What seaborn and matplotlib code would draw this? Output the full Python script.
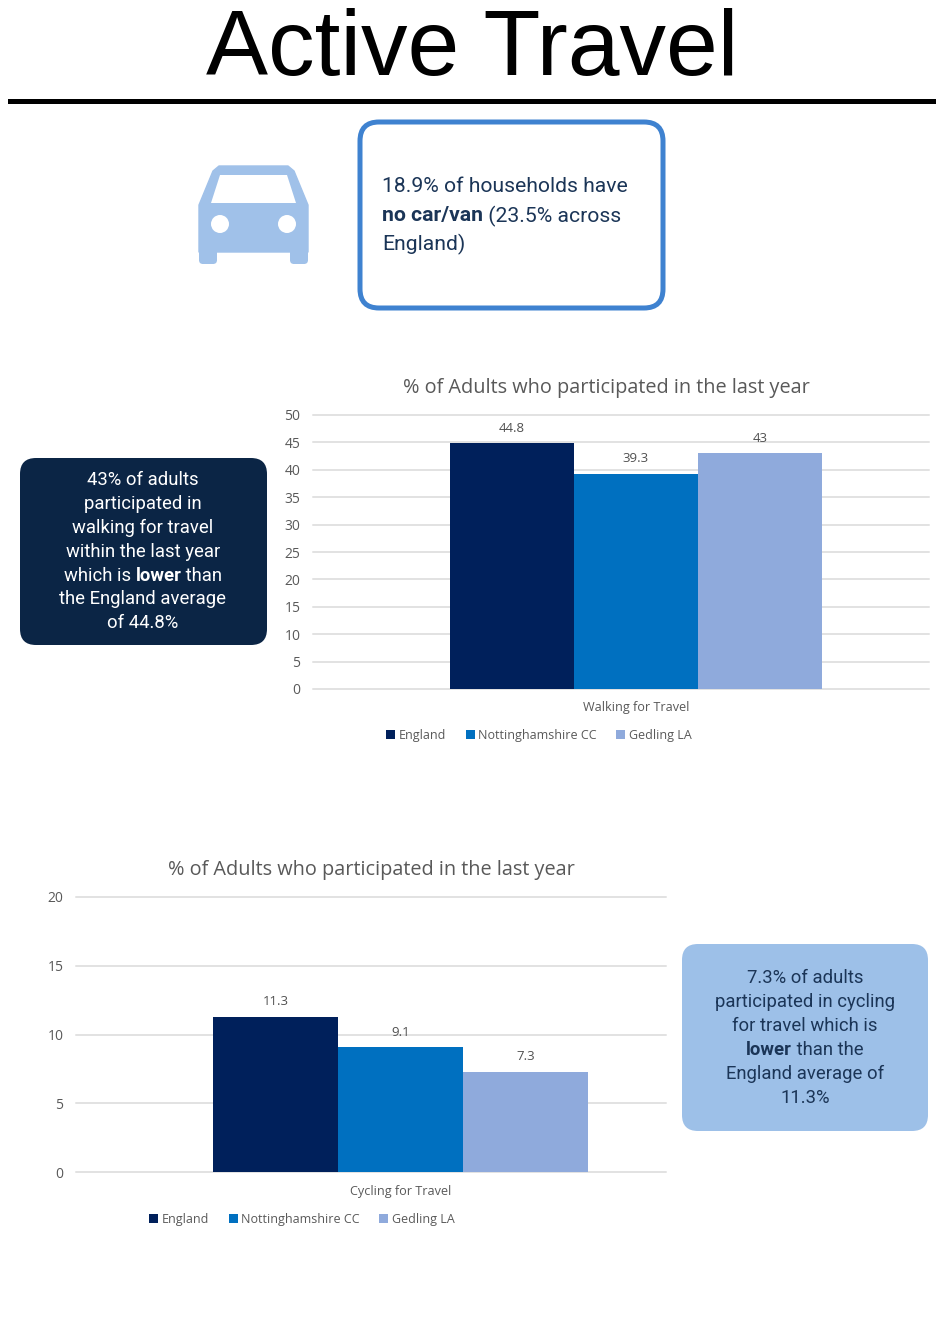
import matplotlib
matplotlib.use("Agg")
import matplotlib.pyplot as plt
from matplotlib.patches import FancyBboxPatch, Circle, Polygon, Rectangle
import pandas as pd
import seaborn as sns

WIDTH, HEIGHT = 937, 1339

areas = ["England", "Nottinghamshire CC", "Gedling LA"]
walking_values = [44.8, 39.3, 43]
cycling_values = [11.3, 9.1, 7.3]
walking_label = "Walking for Travel"
cycling_label = "Cycling for Travel"
chart_title = "% of Adults who participated in the last year"
walking_ticks = [0, 5, 10, 15, 20, 25, 30, 35, 40, 45, 50]
cycling_ticks = [0, 5, 10, 15, 20]
area_colors = ["#00205B", "#0070C0", "#8FAADC"]

sns.set_theme(style="white")
plt.rcParams["font.family"] = ["Open Sans", "DejaVu Sans"]

fig = plt.figure(figsize=(WIDTH / 100, HEIGHT / 100), dpi=100, facecolor="white")

# Overlay in pixel units for the heading, icon and callout boxes
canvas = fig.add_axes([0, 0, 1, 1], zorder=5)
canvas.set_xlim(0, WIDTH)
canvas.set_ylim(HEIGHT, 0)
canvas.axis("off")
canvas.patch.set_alpha(0)


def axes_from_pixels(left, top, right, bottom):
    return fig.add_axes([left / WIDTH, 1 - bottom / HEIGHT,
                         (right - left) / WIDTH, (bottom - top) / HEIGHT])


def draw_chart(rect, values, category, ticks, group_width, xlim, legend_center,
               title_center, label_pad, category_y):
    ax = axes_from_pixels(*rect)
    frame = pd.DataFrame({"category": [category] * len(areas),
                          "area": areas, "value": values})
    sns.barplot(data=frame, x="category", y="value", hue="area", hue_order=areas,
                palette=area_colors, width=group_width, gap=0, saturation=1,
                legend=True, linewidth=0, ax=ax, zorder=3)
    ax.set_xlim(*xlim)
    ax.set_ylim(ticks[0], ticks[-1])
    ax.set_yticks(ticks)
    ax.yaxis.grid(True, color="#E2E2E2", linewidth=1.44, zorder=0, clip_on=False)
    ax.xaxis.grid(False)
    ax.set_axisbelow(True)
    sns.despine(ax=ax, left=True, bottom=True, top=True, right=True)
    ax.set_xlabel("")
    ax.set_ylabel("")
    ax.set_xticks([])
    ax.tick_params(axis="y", length=0, pad=9, labelsize=10, labelcolor="#595959")
    for container, value in zip(ax.containers, values):
        ax.bar_label(container, labels=[f"{value:g}"], padding=label_pad,
                     fontsize=9.5, color="#505050")

    legend = ax.legend(loc="center", bbox_to_anchor=(legend_center[0] / WIDTH,
                                                     1 - legend_center[1] / HEIGHT),
                       bbox_transform=fig.transFigure, ncol=3, frameon=False,
                       handlelength=0.72, handleheight=0.72, handletextpad=0.3,
                       columnspacing=1.55, fontsize=9, labelcolor="#595959")
    legend.set_zorder(4)
    canvas.text(title_center[0], title_center[1], chart_title, ha="center", va="center",
                fontsize=14.35, color="#595959")
    bar_center = rect[0] + (0 - xlim[0]) / (xlim[1] - xlim[0]) * (rect[2] - rect[0])
    canvas.text(bar_center, category_y, category, ha="center", va="center",
                fontsize=9.05, color="#595959")
    return ax


def text_run_line(x, y, runs, size, color, align="left"):
    """Draw one line of mixed regular and bold runs, starting or centred at x."""
    renderer = fig.canvas.get_renderer()
    pieces = []
    total = 0
    for run, bold in runs:
        piece = canvas.text(0, y, run.replace(" ", "\u00a0"), fontsize=size, color=color,
                            va="center", ha="left", family=["Roboto", "DejaVu Sans"],
                            fontweight="bold" if bold else "normal")
        extent = piece.get_window_extent(renderer).width
        pieces.append((piece, extent))
        total += extent
    cursor = x - total / 2 if align == "center" else x
    for piece, extent in pieces:
        piece.set_x(cursor)
        cursor += extent


def rounded_box(left, top, right, bottom, radius, face, edge="none", line=0):
    canvas.add_patch(FancyBboxPatch((left + radius, top + radius),
                                    right - left - 2 * radius, bottom - top - 2 * radius,
                                    boxstyle=f"round,pad={radius},rounding_size={radius}",
                                    facecolor=face, edgecolor=edge, linewidth=line))


# Page heading and rule
canvas.text(472, 51, "Active Travel", ha="center", va="center", fontsize=67,
            color="black", family=["Liberation Sans", "DejaVu Sans"])
canvas.add_patch(Rectangle((8, 99), WIDTH - 8, 4.5, facecolor="black", edgecolor="none"))

# Car icon
icon_blue = "#A0C1E9"
canvas.add_patch(Polygon([(199, 205), (199, 252), (308, 252), (308, 205), (294, 171),
                          (288, 166), (219, 166), (213, 171)],
                         closed=True, facecolor=icon_blue, edgecolor=icon_blue,
                         linewidth=1, joinstyle="round"))
rounded_box(199, 240, 217, 264, 4, icon_blue)
rounded_box(290, 240, 308, 264, 4, icon_blue)
canvas.add_patch(Polygon([(220, 175), (287, 175), (296, 203), (211, 203)], closed=True,
                         facecolor="white", edgecolor="none"))
canvas.add_patch(Circle((220, 224), 9, facecolor="white", edgecolor="none"))
canvas.add_patch(Circle((287, 224), 9, facecolor="white", edgecolor="none"))

# Household car ownership callout
dark_text = "#1B3557"
rounded_box(360, 122, 663, 308, 19, "white", "#3F82D0", 3.6)
text_run_line(382, 187, [("18.9% of households have", False)], 15.2, dark_text)
text_run_line(382, 216, [("no car/van", True), (" (23.5% across", False)], 15.2, dark_text)
text_run_line(382, 244, [("England)", False)], 15.2, dark_text)

# Walking callout
rounded_box(20, 458, 267, 645, 16, "#0B2545")
walking_lines = [
    [("43% of adults", False)],
    [("participated in", False)],
    [("walking for travel", False)],
    [("within the last year", False)],
    [("which is ", False), ("lower", True), (" than", False)],
    [("the England average", False)],
    [("of 44.8%", False)],
]
for row, line_runs in enumerate(walking_lines):
    text_run_line(143, 480 + row * 23.9, line_runs, 13.3, "white", align="center")

# Cycling callout
rounded_box(682, 944, 928, 1131, 16, "#9DC0E8")
cycling_lines = [
    [("7.3% of adults", False)],
    [("participated in cycling", False)],
    [("for travel which is", False)],
    [("lower", True), (" than the", False)],
    [("England average of", False)],
    [("11.3%", False)],
]
for row, line_runs in enumerate(cycling_lines):
    text_run_line(805, 978 + row * 24, line_runs, 13.3, dark_text, align="center")

draw_chart((313, 415, 929, 689), walking_values, walking_label, walking_ticks,
           0.604, (-0.524, 0.476), (539, 735), (606, 388), 6, 708)
draw_chart((76, 897, 666, 1172), cycling_values, cycling_label, cycling_ticks,
           0.636, (-0.55, 0.45), (302, 1219), (371, 870), 6, 1192)

fig.savefig("out.png", dpi=100, facecolor="white")
